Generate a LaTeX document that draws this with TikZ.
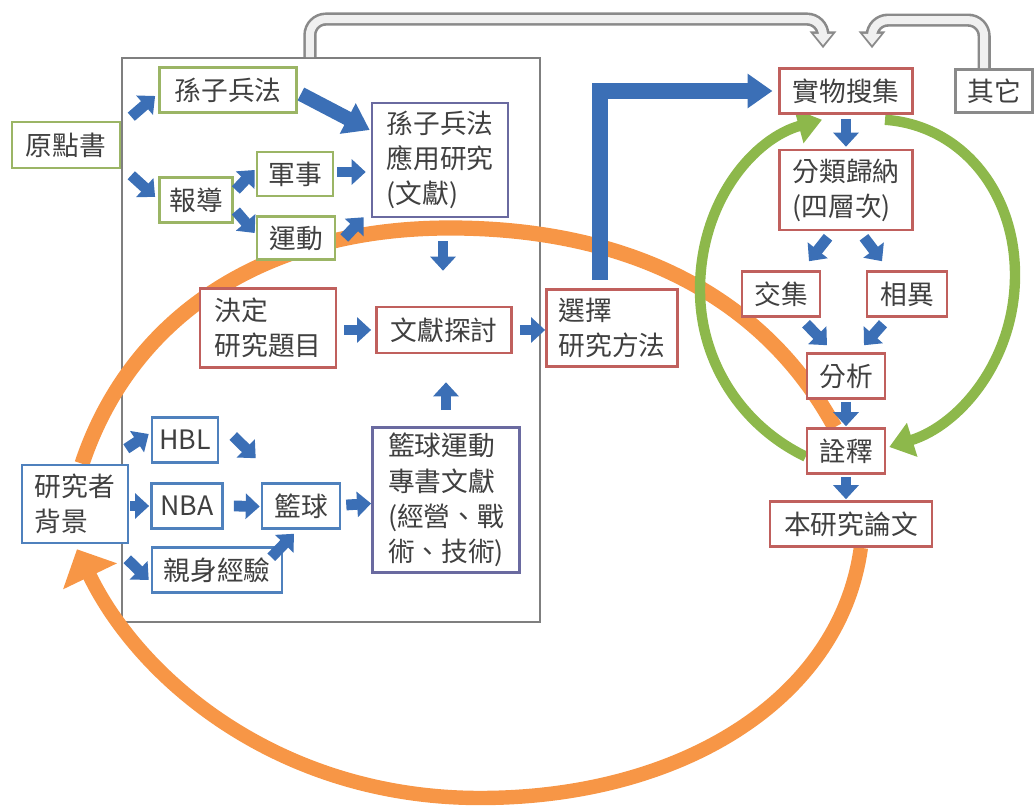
\documentclass[tikz,border=0pt]{standalone}
\usepackage{fontspec}
\setmainfont{Noto Sans CJK TC}
\usetikzlibrary{arrows.meta}
\pgfdeclarelayer{bg}
\pgfsetlayers{bg,main}
\definecolor{txt}{HTML}{404040}
\definecolor{bgreen}{HTML}{9BB565}
\definecolor{bred}{HTML}{C0605D}
\definecolor{bblue}{HTML}{4F81BD}
\definecolor{bpurp}{HTML}{6A6AA0}
\definecolor{bgray}{HTML}{8A8A8A}
\definecolor{arrblue}{HTML}{3B6FB6}
\definecolor{orng}{HTML}{F79646}
\definecolor{grn}{HTML}{8DB84B}
\definecolor{frm}{HTML}{7F7F7F}
\begin{document}
\begin{tikzpicture}[x=0.025cm,y=-0.025cm,
  box/.style={draw, line width=1.8pt, fill=white, text=txt, inner sep=0pt,
    font=\fontsize{19}{25}\selectfont, align=left},
  boxg/.style={box, draw=bgreen},
  boxr/.style={box, draw=bred},
  boxb/.style={box, draw=bblue},
  boxp/.style={box, draw=bpurp},
  boxk/.style={box, draw=bgray},
  barrow/.style={draw=arrblue, line width=0.27cm, -{Triangle[width=0.62cm,length=0.35cm]}},
  bigarrow/.style={draw=arrblue, line width=0.36cm, -{Triangle[width=0.82cm,length=0.62cm]}},
  orangeline/.style={draw=orng, line width=0.38cm},
  greenline/.style={draw=grn, line width=0.26cm, -{Triangle[width=0.85cm,length=0.6cm]}},
  grayouter/.style={draw=bgray, line width=0.33cm, rounded corners=0.4cm, -{Triangle[width=0.64cm,length=0.42cm]}},
  grayinner/.style={draw=gray!12, line width=0.2cm, rounded corners=0.4cm, shorten >=0.08cm, -{Triangle[width=0.44cm,length=0.28cm]}}
]
\useasboundingbox (0,0) rectangle (1034,806);

% left column nodes
\node[boxg, minimum width=2.7cm, minimum height=1.15cm] (yuan) at (66,145) {原點書};
\node[boxg, minimum width=3.43cm, minimum height=1.125cm] (sunzi) at (228,90) {孫子兵法};
\node[boxg, minimum width=1.83cm, minimum height=1.125cm] (baodao) at (196,200) {報導};
\node[boxg, minimum width=1.9cm, minimum height=1.1cm] (junshi) at (295,174) {軍事};
\node[boxg, minimum width=1.95cm, minimum height=1.08cm] (yundong) at (296,238) {運動};
\node[boxp, minimum width=3.4cm, minimum height=2.85cm] (yingyong) at (440,160) {孫子兵法\\應用研究\\(文獻)};
\node[boxr, minimum width=3.4cm, minimum height=1.98cm] (jueding) at (268,328) {決定\\研究題目};
\node[boxr, minimum width=3.38cm, minimum height=1.15cm] (wenxian) at (444,330) {文獻探討};
\node[boxr, minimum width=3.28cm, minimum height=1.93cm] (xuanze) at (612,328) {選擇\\研究方法};
\node[boxp, minimum width=3.68cm, minimum height=3.63cm] (zhuanshu) at (446,500) {籃球運動\\專書文獻\\(經營、戰\\術、技術)};
\node[boxb, minimum width=1.65cm, minimum height=1.125cm] (hbl) at (185,440) {HBL};
\node[boxb, minimum width=1.78cm, minimum height=1.125cm] (nba) at (187,506) {NBA};
\node[boxb, minimum width=1.95cm, minimum height=1.125cm] (lanqiu) at (301,506) {籃球};
\node[boxb, minimum width=3.25cm, minimum height=1.125cm] (qinshen) at (217,570) {親身經驗};
\node[boxb, minimum width=2.65cm, minimum height=1.95cm] (yanjiuzhe) at (75,504) {研究者\\背景};
% right column nodes
\node[boxr, minimum width=3.33cm, minimum height=1.125cm] (shiwu) at (846,91) {實物搜集};
\node[boxk, minimum width=1.93cm, minimum height=1.08cm] (qita) at (994,91) {其它};
\node[boxr, minimum width=3.33cm, minimum height=2.0cm] (fenlei) at (846,190) {分類歸納\\(四層次)};
\node[boxr, minimum width=1.95cm, minimum height=1.125cm] (jiaoji) at (781,294) {交集};
\node[boxr, minimum width=2.0cm, minimum height=1.125cm] (xiangyi) at (907,294) {相異};
\node[boxr, minimum width=1.95cm, minimum height=1.125cm] (fenxi) at (846,376) {分析};
\node[boxr, minimum width=1.95cm, minimum height=1.125cm] (quanshi) at (846,451) {詮釋};
\node[boxr, minimum width=4.05cm, minimum height=1.125cm] (benyanjiu) at (851,524) {本研究論文};

\begin{pgfonlayer}{bg}
\node[draw=frm, line width=1.2pt, minimum width=10.45cm, minimum height=14.1cm, inner sep=0pt] (frame) at (331,340) {};
% orange arcs
\draw[orangeline] ([xshift=-8]quanshi.north) .. controls (760,290) and (620,228) .. (450,228)
  .. controls (260,228) and (130,320) .. ([xshift=5]yanjiuzhe.north);
\draw[orangeline, line width=0.36cm, -{Triangle[width=1.45cm,length=0.75cm]}]
  ([xshift=7]benyanjiu.south) .. controls (840,700) and (680,798) .. (480,798)
  .. controls (280,798) and (140,680) .. ([shift={(2,5)}]yanjiuzhe.south);
% green arcs
\draw[greenline] ([yshift=-4]quanshi.west) .. controls (740,425) and (700,360) .. (700,290)
  .. controls (700,200) and (755,138) .. ([shift={(-24,5)}]shiwu.south);
\draw[greenline] ([shift={(39,5)}]shiwu.south) .. controls (960,125) and (1015,190) .. (1015,275)
  .. controls (1015,360) and (960,425) .. ([shift={(3,-4)}]quanshi.east);
\end{pgfonlayer}

% gray arrows
\draw[grayouter] ([xshift=-15]frame.north) -- ++(0,-38) -| ([shift={(-23,-19)}]shiwu.north);
\draw[grayinner] ([xshift=-15]frame.north) -- ++(0,-38) -| ([shift={(-23,-19)}]shiwu.north);
\draw[grayouter] ([xshift=-7]qita.north) -- ++(0,-48) -| ([shift={(26,-19)}]shiwu.north);
\draw[grayinner] ([xshift=-7]qita.north) -- ++(0,-48) -| ([shift={(26,-19)}]shiwu.north);

% big blue arrows
\draw[bigarrow] ([shift={(3,4)}]sunzi.east) -- ([shift={(-1,-30)}]yingyong.west);
\draw[bigarrow, line width=0.38cm] ([shift={(-12,-8)}]xuanze.north) |- ([xshift=-4]shiwu.west);

% small blue arrows
\draw[barrow] ([shift={(10,-4)}]yuan.north east) -- ([shift={(-3,6)}]sunzi.west);
\draw[barrow] ([shift={(10,6)}]yuan.south east) -- ([shift={(-3,-3)}]baodao.west);
\draw[barrow] ([shift={(2,-10)}]baodao.east) -- ([shift={(-1,-4)}]junshi.west);
\draw[barrow] ([shift={(2,11)}]baodao.east) -- ([shift={(-1,-5)}]yundong.west);
\draw[barrow] ([shift={(3,-2)}]junshi.east) -- ([shift={(-5,12)}]yingyong.west);
\draw[barrow] ([shift={(8,0)}]yundong.east) -- ([shift={(-7,-1)}]yingyong.south west);
\draw[barrow] ([shift={(3,23)}]yingyong.south) -- ([shift={(-1,-35)}]wenxian.north);
\draw[barrow] ([shift={(7,2)}]jueding.east) -- ([shift={(-4,0)}]wenxian.west);
\draw[barrow] ([shift={(7,0)}]wenxian.east) -- ([shift={(0,2)}]xuanze.west);
\draw[barrow] ([shift={(0,-16)}]zhuanshu.north) -- ([shift={(2,28)}]wenxian.south);
\draw[barrow] ([shift={(-3,-15)}]yanjiuzhe.north east) -- ([shift={(-2,-6)}]hbl.west);
\draw[barrow] ([shift={(1,2)}]yanjiuzhe.east) -- ([shift={(-1,0)}]nba.west);
\draw[barrow] ([shift={(-2,15)}]yanjiuzhe.south east) -- ([shift={(-2,10)}]qinshen.west);
\draw[barrow] ([shift={(14,-4)}]hbl.east) -- ([shift={(-5,-24)}]lanqiu.north west);
\draw[barrow] ([shift={(10,0)}]nba.east) -- ([shift={(-1,0.5)}]lanqiu.west);
\draw[barrow] ([shift={(-12,11)}]qinshen.north east) -- ([shift={(-7,4)}]lanqiu.south);
\draw[barrow] ([shift={(5,-1)}]lanqiu.east) -- ([shift={(0,3.5)}]zhuanshu.west);
\draw[barrow] ([shift={(0,4)}]shiwu.south) -- ([shift={(0,-2)}]fenlei.north);
\draw[barrow] ([shift={(-18,6)}]fenlei.south) -- ([shift={(28,-9)}]jiaoji.north);
\draw[barrow] ([shift={(18,6)}]fenlei.south) -- ([shift={(-25,-9)}]xiangyi.north);
\draw[barrow] ([shift={(25,6)}]jiaoji.south) -- ([shift={(-19,-7)}]fenxi.north);
\draw[barrow] ([shift={(-24,6)}]xiangyi.south) -- ([shift={(18,-7)}]fenxi.north);
\draw[barrow] ([shift={(0,2)}]fenxi.south) -- ([shift={(0,-1)}]quanshi.north);
\draw[barrow] ([shift={(0,2)}]quanshi.south) -- ([shift={(-5,-1)}]benyanjiu.north);
\end{tikzpicture}
\end{document}
